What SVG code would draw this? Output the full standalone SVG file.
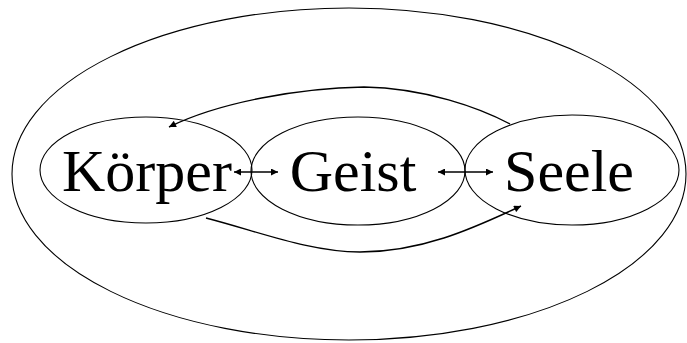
<svg xmlns="http://www.w3.org/2000/svg" width="687" height="343" viewBox="0 0 687 343">
<style>
.e{fill:none;stroke:#000;stroke-width:1.1}
.t{font-family:"Liberation Serif","Times New Roman",serif;font-size:60px;fill:#000;text-anchor:middle}
.c{fill:none;stroke:#000;stroke-width:1.4;stroke-linejoin:round}
</style>
<defs>
<marker id="ah" viewBox="0 0 10 10" refX="10" refY="5" markerWidth="9" markerHeight="7" markerUnits="userSpaceOnUse" orient="auto-start-reverse">
<path d="M0,0 L10,5 L0,10 Z" fill="#000"/>
</marker>
</defs>
<rect width="687" height="343" fill="#fff"/>
<g id="outer"><ellipse class="e" cx="349" cy="174" rx="337" ry="166"/></g>
<g id="koerper"><ellipse class="e" cx="146" cy="170" rx="106" ry="53"/><text class="t" x="147" y="191">Körper</text></g>
<g id="geist"><ellipse class="e" cx="358" cy="171" rx="107" ry="54"/><text class="t" x="353" y="191">Geist</text></g>
<g id="seele"><ellipse class="e" cx="572" cy="170" rx="107" ry="55"/><text class="t" x="569" y="191">Seele</text></g>
<g id="connectors">
<line class="c" x1="234" y1="172" x2="278" y2="172" marker-start="url(#ah)" marker-end="url(#ah)"/>
<line class="c" x1="438" y1="172" x2="493" y2="172" marker-start="url(#ah)" marker-end="url(#ah)"/>
<path class="c" d="M510,124 C480,108 425,88 364,87 C300,88 220,102 169,127" marker-end="url(#ah)"/>
<path class="c" d="M206,218 C260,232 310,252 360,252 C420,252 470,230 521,206" marker-end="url(#ah)"/>
</g>
</svg>
